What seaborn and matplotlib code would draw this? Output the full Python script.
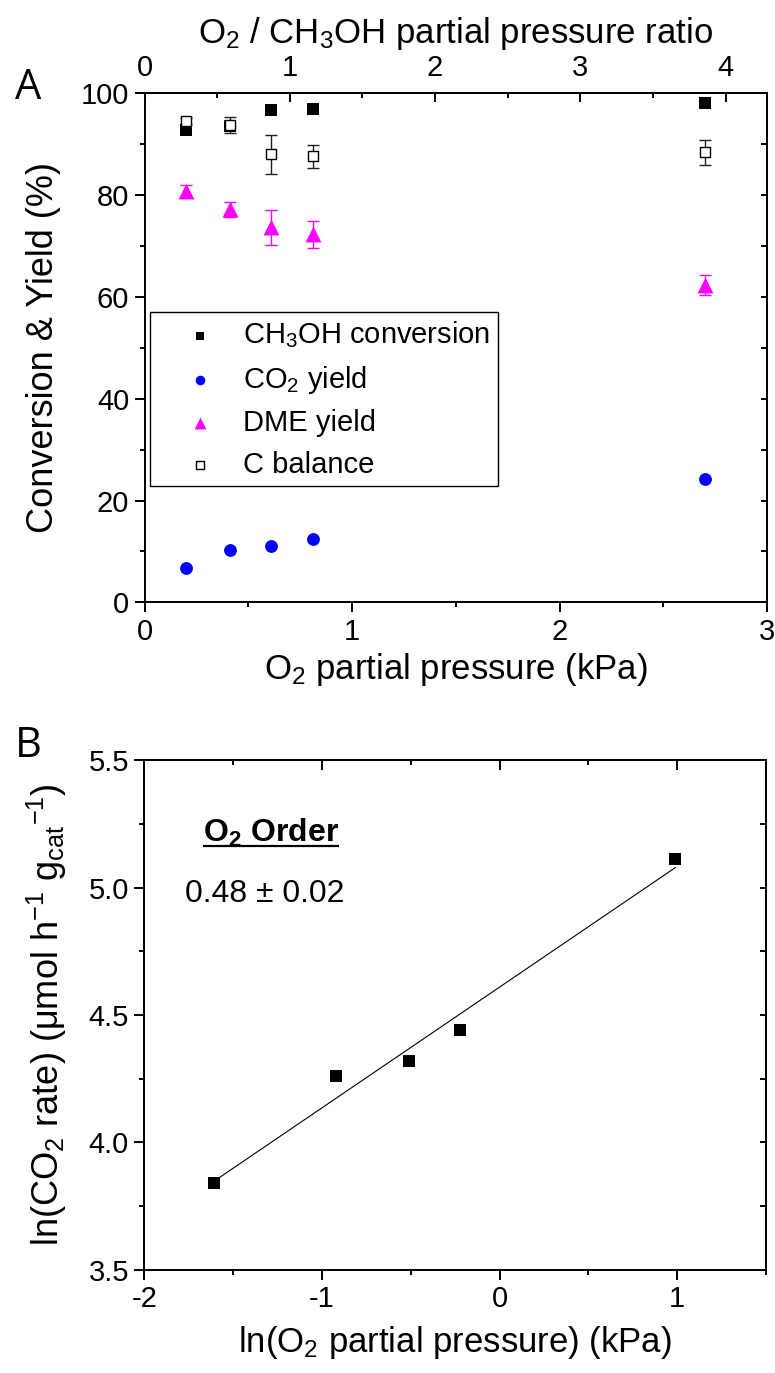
import matplotlib
matplotlib.use("Agg")
import matplotlib.pyplot as plt
import seaborn as sns
from matplotlib.ticker import MultipleLocator, FixedLocator, FuncFormatter

# ---- Panel A data: O2 partial pressure series ----
o2_kpa = [0.20, 0.41, 0.61, 0.81, 2.70]
ch3oh_conversion = [92.9, 93.6, 96.7, 97.0, 98.2]
co2_yield = [6.7, 10.3, 11.0, 12.4, 24.2]
dme_yield = [80.8, 77.2, 73.7, 72.3, 62.3]
dme_err = [1.2, 1.5, 3.4, 2.6, 2.0]
c_balance = [94.5, 93.8, 88.0, 87.6, 88.4]
c_balance_err = [0.6, 1.6, 3.8, 2.2, 2.5]
ch3oh_kpa = 0.70  # methanol partial pressure used for the ratio axis
ratio_ticks = [0, 1, 2, 3, 4]
ratio_minor = [0.5, 1.5, 2.5, 3.5]

# ---- Panel B data: log-log rate plot ----
ln_o2 = [-1.61, -0.92, -0.51, -0.22, 0.99]
ln_co2_rate = [3.84, 4.26, 4.32, 4.44, 5.11]
order_text = "0.48 \u00b1 0.02"

sns.set_theme(style="ticks")
plt.rcParams["font.family"] = ["Liberation Sans", "DejaVu Sans"]
plt.rcParams["mathtext.fontset"] = "custom"
plt.rcParams["mathtext.rm"] = "Liberation Sans"
plt.rcParams["mathtext.it"] = "Liberation Sans:italic"
plt.rcParams["mathtext.bf"] = "Liberation Sans:bold"
plt.rcParams["mathtext.default"] = "regular"
plt.rcParams["axes.linewidth"] = 1.4
plt.rcParams["axes.edgecolor"] = "black"
plt.rcParams["text.color"] = "black"
plt.rcParams["axes.labelcolor"] = "black"
plt.rcParams["xtick.color"] = "black"
plt.rcParams["ytick.color"] = "black"

TICK_FS = 21
LABEL_FS = 25
SPINE_W = 1.4

fig = plt.figure(figsize=(7.75, 13.73), dpi=100)
axA = fig.add_axes([0.1865, 0.5613, 0.8032, 0.3707])
axB = fig.add_axes([0.1862, 0.0752, 0.8022, 0.3712])


def style_main(ax):
    ax.tick_params(which="major", direction="out", length=7, width=SPINE_W,
                   labelsize=TICK_FS, colors="black", pad=4,
                   top=False, right=False)
    ax.tick_params(which="minor", direction="out", length=3.5, width=SPINE_W,
                   top=False, right=False)
    for s in ax.spines.values():
        s.set_linewidth(SPINE_W)
        s.set_color("black")


# ================= Panel A =================
axA.errorbar(o2_kpa, dme_yield, yerr=dme_err, fmt="none", ecolor="#FF00FF",
             elinewidth=1.0, capsize=4, capthick=1.0, zorder=2)
axA.errorbar(o2_kpa, c_balance, yerr=c_balance_err, fmt="none", ecolor="#202020",
             elinewidth=1.0, capsize=4, capthick=1.0, zorder=2)

sns.scatterplot(x=o2_kpa, y=ch3oh_conversion, marker="s", s=70, color="black",
                edgecolor="black", linewidth=0, ax=axA,
                label="CH$_3$OH conversion", zorder=3)
sns.scatterplot(x=o2_kpa, y=co2_yield, marker="o", s=85, color="#0000FF",
                edgecolor="#0000FF", linewidth=0, ax=axA,
                label="CO$_2$ yield", zorder=3)
sns.scatterplot(x=o2_kpa, y=dme_yield, marker="^", s=130, color="#FF00FF",
                edgecolor="#FF00FF", linewidth=0, ax=axA,
                label="DME yield", zorder=3)
sns.scatterplot(x=o2_kpa, y=c_balance, marker="s", s=60, color="white",
                edgecolor="black", linewidth=1.0, ax=axA,
                label="C balance", zorder=4)

axA.set_xlim(0, 3)
axA.set_ylim(0, 100)
axA.xaxis.set_major_locator(MultipleLocator(1))
axA.xaxis.set_minor_locator(MultipleLocator(0.5))
axA.yaxis.set_major_locator(MultipleLocator(20))
axA.yaxis.set_minor_locator(MultipleLocator(10))
style_main(axA)
axA.set_xlabel("O$_2$ partial pressure (kPa)", fontsize=LABEL_FS, labelpad=4)
axA.set_ylabel("Conversion & Yield (%)", fontsize=26, labelpad=14)

leg = axA.legend(loc="upper left", bbox_to_anchor=(0.009, 0.570),
                 borderaxespad=0, frameon=True, fancybox=False,
                 edgecolor="black", framealpha=1, fontsize=21,
                 handlelength=2.9, handletextpad=0.05, labelspacing=0.46,
                 borderpad=0.25, markerscale=0.75)
leg.get_frame().set_linewidth(1.0)

# ratio axis on top
topA = axA.secondary_xaxis("top", functions=(lambda x: x / ch3oh_kpa,
                                             lambda r: r * ch3oh_kpa))
topA.xaxis.set_major_locator(FixedLocator(ratio_ticks))
topA.xaxis.set_minor_locator(FixedLocator(ratio_minor))
topA.tick_params(which="major", direction="in", length=6.5, width=SPINE_W,
                 labelsize=TICK_FS, pad=8, colors="black")
topA.tick_params(which="minor", direction="in", length=3.5, width=SPINE_W)
topA.spines["top"].set_linewidth(SPINE_W)
topA.set_xlabel("O$_2$ / CH$_3$OH partial pressure ratio", fontsize=LABEL_FS,
                labelpad=8)

rightA = axA.secondary_yaxis("right")
rightA.yaxis.set_major_locator(MultipleLocator(20))
rightA.yaxis.set_minor_locator(MultipleLocator(10))
rightA.tick_params(which="both", direction="in", length=4, width=SPINE_W,
                   labelright=False)
rightA.spines["right"].set_linewidth(SPINE_W)

# ================= Panel B =================
sns.regplot(x=ln_o2, y=ln_co2_rate, ci=None, scatter=False, truncate=True,
            line_kws=dict(color="black", lw=0.8), ax=axB)
sns.scatterplot(x=ln_o2, y=ln_co2_rate, marker="s", s=70, color="black",
                edgecolor="black", linewidth=0, ax=axB, zorder=3)

axB.set_xlim(-2, 1.5)
axB.set_ylim(3.5, 5.5)
axB.xaxis.set_major_locator(MultipleLocator(1))
axB.xaxis.set_minor_locator(MultipleLocator(0.5))
axB.yaxis.set_major_locator(MultipleLocator(0.5))
axB.yaxis.set_minor_locator(MultipleLocator(0.25))
axB.xaxis.set_major_formatter(FuncFormatter(lambda v, p: f"{v:.0f}"))
style_main(axB)
axB.set_xlabel("ln(O$_2$ partial pressure) (kPa)", fontsize=LABEL_FS, labelpad=8)
axB.set_ylabel("ln(CO$_2$ rate) (\u03bcmol h$^{-1}$ g$_{cat}$$^{-1}$)",
               fontsize=26, labelpad=14)

topB = axB.secondary_xaxis("top")
topB.xaxis.set_major_locator(MultipleLocator(1))
topB.xaxis.set_minor_locator(MultipleLocator(0.5))
topB.tick_params(which="major", direction="in", length=7, width=SPINE_W,
                 labeltop=False)
topB.tick_params(which="minor", direction="in", length=3.5, width=SPINE_W)
topB.spines["top"].set_linewidth(SPINE_W)

rightB = axB.secondary_yaxis("right")
rightB.yaxis.set_major_locator(MultipleLocator(0.5))
rightB.yaxis.set_minor_locator(MultipleLocator(0.25))
rightB.tick_params(which="both", direction="in", length=4, width=SPINE_W,
                   labelright=False)
rightB.spines["right"].set_linewidth(SPINE_W)

title_txt = axB.text(0.094, 0.840, r"$\mathbf{O_2\ Order}$", transform=axB.transAxes,
                     fontsize=23, ha="left", va="baseline")
axB.text(0.066, 0.722, order_text, transform=axB.transAxes, fontsize=23,
         ha="left", va="baseline")

# panel letters
fig.text(0.036, 0.936, "A", fontsize=30, family="Open Sans", ha="center", va="center")
fig.text(0.036, 0.457, "B", fontsize=30, family="Open Sans", ha="center", va="center")

# underline the order heading
fig.canvas.draw()
bb = title_txt.get_window_extent()
inv = axB.transAxes.inverted()
(x0, _), (x1, _) = inv.transform([(bb.x0, bb.y0), (bb.x1, bb.y0)])
axB.plot([x0, x1], [0.831, 0.831], transform=axB.transAxes, color="black",
         lw=1.6, clip_on=False, solid_capstyle="butt")

fig.savefig("out.png", dpi=100)
